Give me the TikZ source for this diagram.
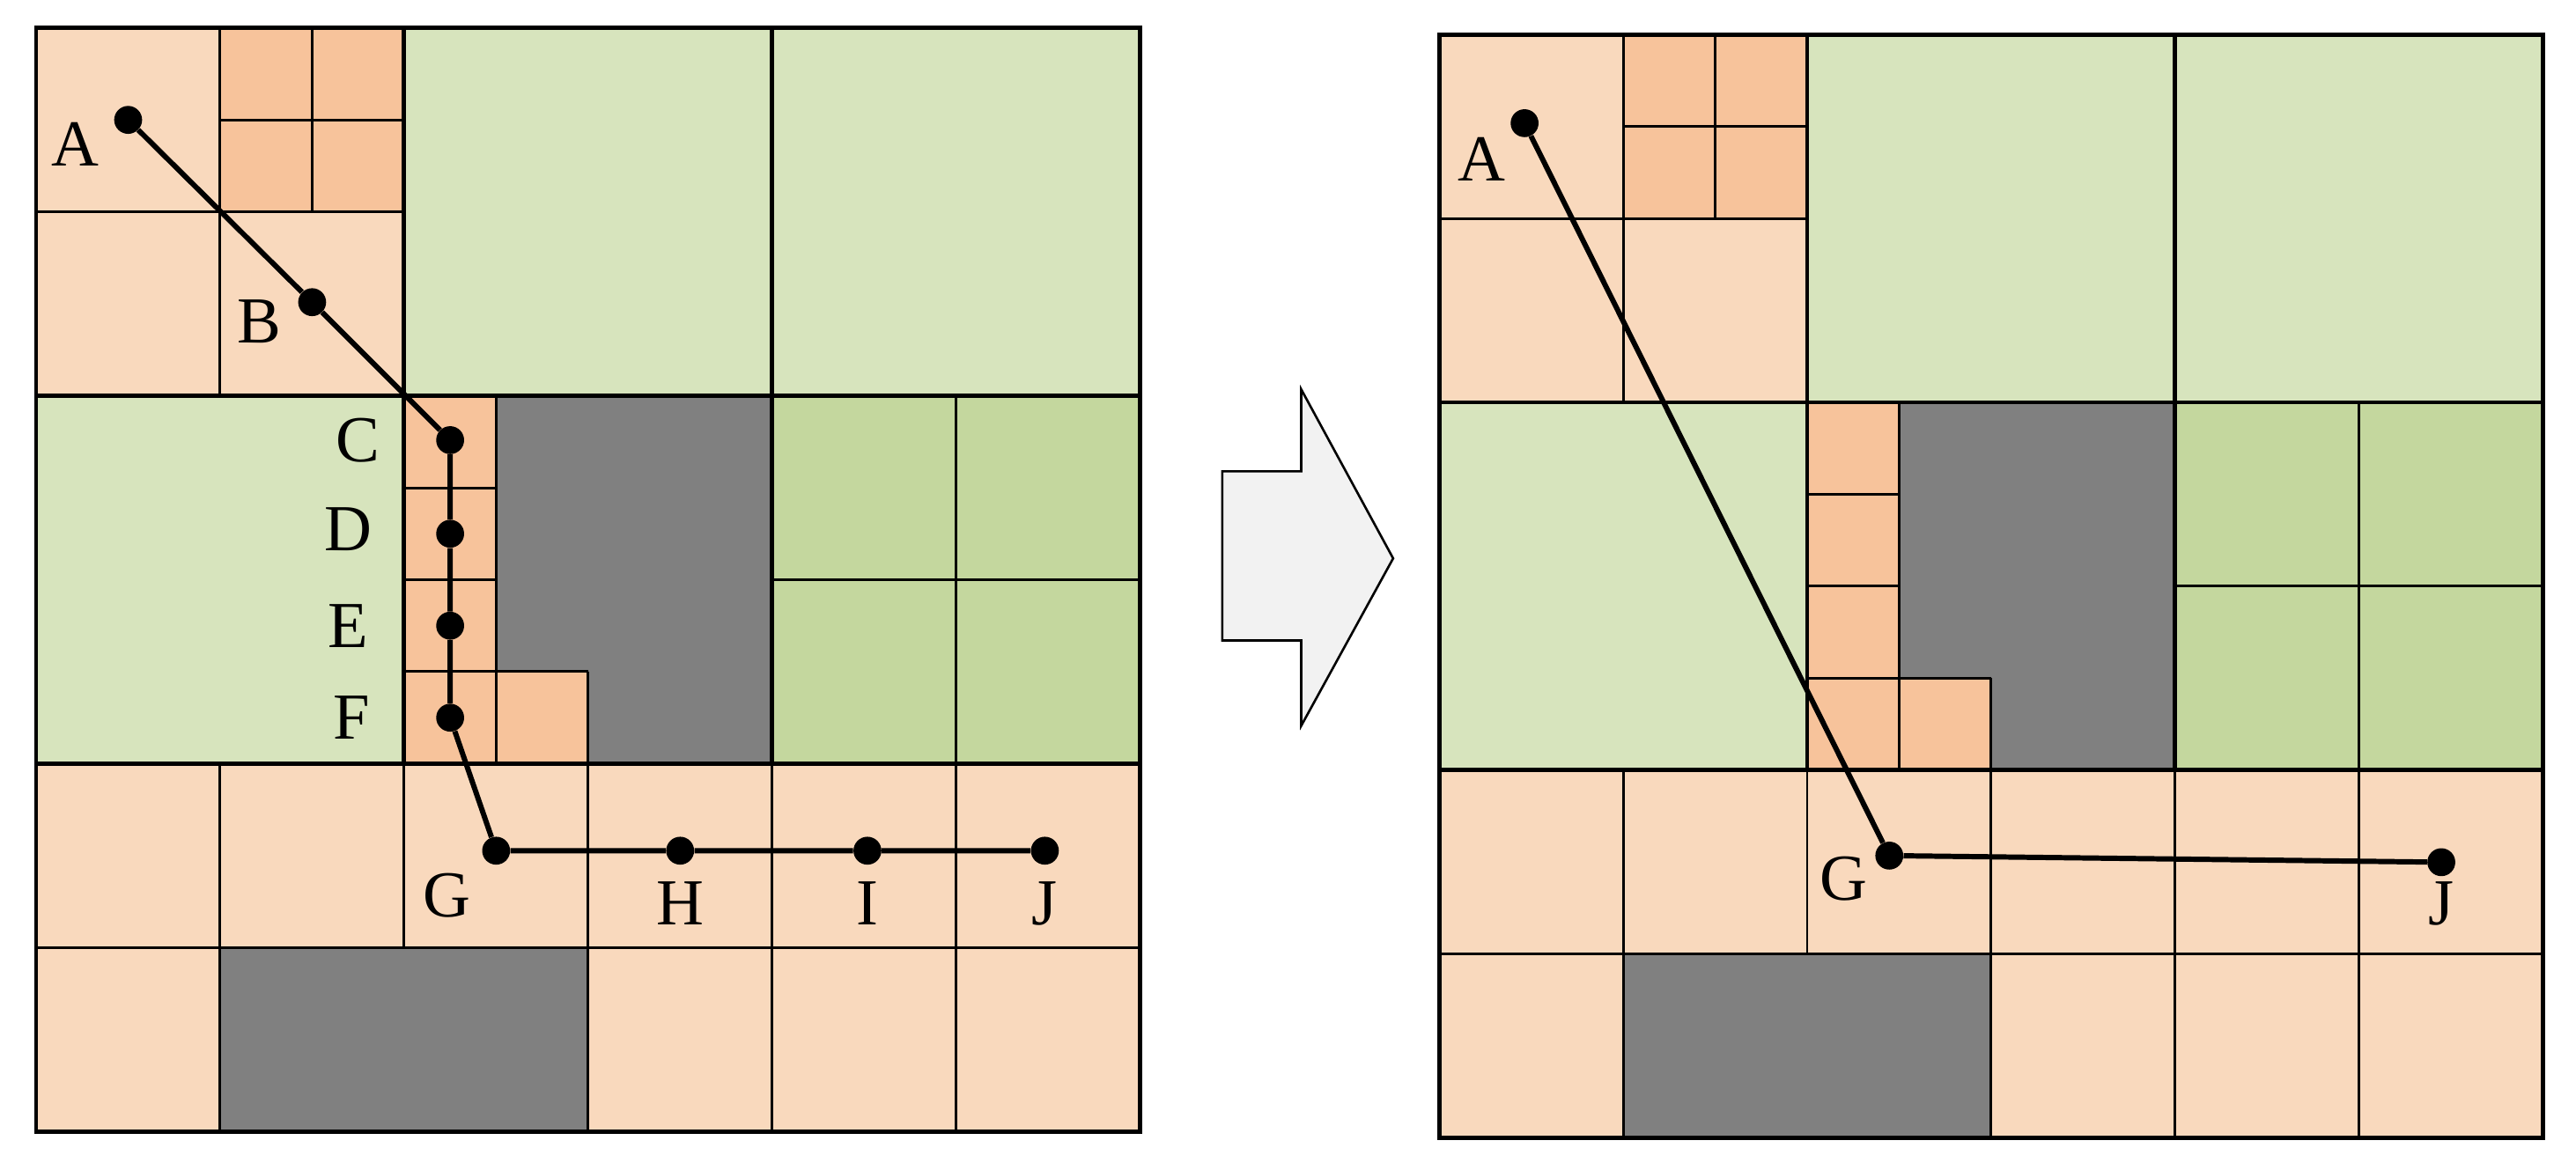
\documentclass[tikz,border=0pt]{standalone}
\usepackage{fontspec}
\setmainfont{Liberation Serif}
\definecolor{peach}{HTML}{F9D9BD}
\definecolor{org}{HTML}{F7C39B}
\definecolor{lgreen}{HTML}{D7E4BD}
\definecolor{dgreen}{HTML}{C4D79E}
\definecolor{gry}{HTML}{808080}
\definecolor{arr}{HTML}{F2F2F2}
\tikzset{thin line/.style={line width=1.6pt},thick line/.style={line width=2.6pt},
 pt/.style={circle,fill=black,inner sep=0pt,minimum size=17pt},
 lab/.style={font=\fontsize{40}{40}\selectfont,inner sep=0pt},
 path line/.style={line width=3.2pt}}
\newcommand\mypanel{%
 \fill[peach] (0,0) rectangle (672,672);
 \fill[org] (112,0) rectangle (224,112);
 \fill[org] (224,224) rectangle (280,448);
 \fill[org] (280,392) rectangle (336,448);
 \fill[lgreen] (224,0) rectangle (672,224);
 \fill[lgreen] (0,224) rectangle (224,448);
 \fill[dgreen] (448,224) rectangle (672,448);
 \fill[gry] (280,224) -- (448,224) -- (448,448) -- (336,448) -- (336,392) -- (280,392) -- cycle;
 \fill[gry] (112,560) rectangle (336,672);
 \draw[thin line] (112,0)--(112,224) (0,112)--(224,112) (168,0)--(168,112) (112,56)--(224,56)
  (448,0)--(448,224)
  (280,224)--(280,448) (224,280)--(280,280) (224,336)--(280,336) (224,392)--(336,392) (336,392)--(336,448)
  (560,224)--(560,448) (448,336)--(672,336)
  (0,560)--(672,560) (112,448)--(112,560) (224,448)--(224,560) (336,448)--(336,672) (448,448)--(448,672) (560,448)--(560,672) (112,560)--(112,672);
 \draw[thick line] (0,0) rectangle (672,672) (0,224)--(672,224) (0,448)--(672,448) (224,0)--(224,448) (448,0)--(448,448);
}
\begin{document}
\begin{tikzpicture}[x=1pt,y=-1pt]
\useasboundingbox (0,0) rectangle (1568,712);
\begin{scope}[shift={(22,17)}]
 \mypanel
\end{scope}
\begin{scope}[shift={(876,21)}]
 \mypanel
\end{scope}
% left panel points
\node[pt] (A) at (78,73) {};
\node[pt] (B) at (190,184) {};
\node[pt] (C) at (274,268) {};
\node[pt] (D) at (274,325) {};
\node[pt] (E) at (274,381) {};
\node[pt] (F) at (274,437) {};
\node[pt] (G) at (302,518) {};
\node[pt] (H) at (414,518) {};
\node[pt] (I) at (528,518) {};
\node[pt] (J) at (636,518) {};
\draw[path line] (A)--(B)--(C)--(D)--(E)--(F)--(G)--(H)--(I)--(J);
\node[lab] (lA) at (46,88) {A};
\node[lab] (lB) at (158,196) {B};
\node[lab] (lC) at (218,268) {C};
\node[lab] (lD) at (212,322) {D};
\node[lab] (lE) at (212,381) {E};
\node[lab] (lF) at (214,437) {F};
\node[lab] (lG) at (272,545) {G};
\node[lab] (lH) at (414,550) {H};
\node[lab] (lI) at (528,550) {I};
\node[lab] (lJ) at (636,550) {J};
% right panel
\node[pt] (A2) at (928,75) {};
\node[pt] (G2) at (1150,521) {};
\node[pt] (J2) at (1486,525) {};
\draw[path line] (A2)--(G2)--(J2);
\node[lab] (lA2) at (902,97) {A};
\node[lab] (lG2) at (1122,535) {G};
\node[lab] (lJ2) at (1486,550) {J};
% arrow
\draw[fill=arr,line width=1.4pt] (744,287) -- (792,287) -- (792,237) -- (848,340) -- (792,442) -- (792,390) -- (744,390) -- cycle;
\end{tikzpicture}
\end{document}
